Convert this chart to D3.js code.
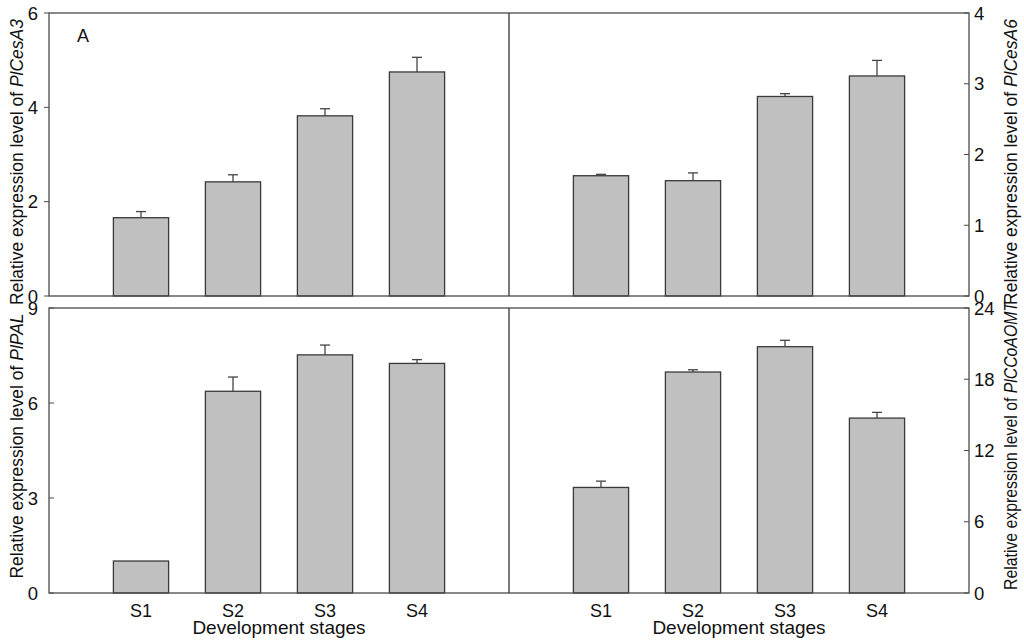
<!DOCTYPE html>
<html>
<head>
<meta charset="utf-8">
<script src="https://cdn.jsdelivr.net/npm/d3@7"></script>
<style>
  html, body { margin: 0; padding: 0; background: #fff; }
  svg { display: block; font-family: "Liberation Sans", Arial, Helvetica, sans-serif; }
</style>
</head>
<body>
<svg id="chart" width="1024" height="644"></svg>
<script>
// ---- Data ----
const stages = ["S1", "S2", "S3", "S4"];
const cesA3 = [1.66, 2.42, 3.82, 4.75];
const cesA3Err = [0.13, 0.15, 0.15, 0.31];
const cesA6 = [1.70, 1.63, 2.82, 3.11];
const cesA6Err = [0.02, 0.11, 0.04, 0.22];
const pal = [1.01, 6.37, 7.52, 7.25];
const palErr = [0, 0.45, 0.31, 0.12];
const ccoaomt = [8.89, 18.61, 20.74, 14.73];
const ccoaomtErr = [0.53, 0.19, 0.54, 0.48];
const ticksCesA3 = [0, 2, 4, 6];
const ticksCesA6 = [0, 1, 2, 3, 4];
const ticksPal = [0, 3, 6, 9];
const ticksCcoaomt = [0, 6, 12, 18, 24];
const genes = ["PlCesA3", "PlCesA6", "PlPAL", "PlCCoAOMT"];
const xTitle = "Development stages";

// ---- Layout ----
const svg = d3.select("#chart");
const L = 49, M = 509, R = 969;
const topY0 = 13, topY1 = 296, botY0 = 308, botY1 = 593;
const frameColor = "#4a4a4a";

const panels = [
  {vals: cesA3, err: cesA3Err, ticks: ticksCesA3, gene: genes[0], x0: L, x1: M, y0: topY0, y1: topY1, side: "left", tickDir: -1},
  {vals: cesA6, err: cesA6Err, ticks: ticksCesA6, gene: genes[1], x0: M, x1: R, y0: topY0, y1: topY1, side: "right", tickDir: -1},
  {vals: pal, err: palErr, ticks: ticksPal, gene: genes[2], x0: L, x1: M, y0: botY0, y1: botY1, side: "left", tickDir: 1},
  {vals: ccoaomt, err: ccoaomtErr, ticks: ticksCcoaomt, gene: genes[3], x0: M, x1: R, y0: botY0, y1: botY1, side: "right", tickDir: -1, fit: 288}
];

panels.forEach(p => {
  const x = d3.scaleLinear().domain([0, 5]).range([p.x0, p.x1]);
  const y = d3.scaleLinear().domain([0, d3.max(p.ticks)]).range([p.y1, p.y0]);
  const g = svg.append("g");
  const bw = x(0.6) - x(0);

  // bars
  g.selectAll("rect.bar").data(p.vals).enter().append("rect")
    .attr("class", "bar")
    .attr("x", (d, i) => x(i + 1) - bw / 2)
    .attr("width", bw)
    .attr("y", d => y(d))
    .attr("height", d => y(0) - y(d))
    .attr("fill", "#c0c0c0")
    .attr("stroke", "#3a3a3a")
    .attr("stroke-width", 1.3);

  // error bars
  const eb = g.selectAll("g.err").data(p.vals.map((v, i) => ({v, e: p.err[i], i})).filter(d => d.e > 0))
    .enter().append("g").attr("class", "err");
  eb.append("line")
    .attr("x1", d => x(d.i + 1)).attr("x2", d => x(d.i + 1))
    .attr("y1", d => y(d.v)).attr("y2", d => y(d.v + d.e))
    .attr("stroke", "#444").attr("stroke-width", 1.3);
  eb.append("line")
    .attr("x1", d => x(d.i + 1) - 5).attr("x2", d => x(d.i + 1) + 5)
    .attr("y1", d => y(d.v + d.e)).attr("y2", d => y(d.v + d.e))
    .attr("stroke", "#444").attr("stroke-width", 1.3);

  // y axis
  const axX = p.side === "left" ? p.x0 : p.x1;
  const tickLen = 5;
  g.selectAll("line.tick").data(p.ticks).enter().append("line")
    .attr("x1", axX)
    .attr("x2", d => {
      if (p.side === "left") return p.tickDir < 0 ? axX - tickLen : axX + tickLen;
      return axX - tickLen;
    })
    .attr("y1", d => y(d)).attr("y2", d => y(d))
    .attr("stroke", frameColor).attr("stroke-width", 1);
  g.selectAll("text.tl").data(p.ticks).enter().append("text")
    .attr("x", p.side === "left" ? 38 : 974)
    .attr("y", d => y(d))
    .attr("dy", "0.36em")
    .attr("text-anchor", p.side === "left" ? "end" : "start")
    .attr("font-size", 18.5)
    .attr("fill", "#111")
    .text(d => d);

  // x labels (bottom panels)
  if (p.y0 === botY0) {
    g.selectAll("text.xl").data(stages).enter().append("text")
      .attr("x", (d, i) => x(i + 1))
      .attr("y", 617)
      .attr("text-anchor", "middle")
      .attr("font-size", 18)
      .attr("fill", "#111")
      .text(d => d);
    g.append("text")
      .attr("x", (p.x0 + p.x1) / 2)
      .attr("y", 634)
      .attr("text-anchor", "middle")
      .attr("font-size", 19)
      .attr("fill", "#111")
      .text(xTitle);
  }

  // y title
  const cy = p.y0 === topY0 ? 162 : 446;
  const tx = p.side === "left" ? 23 : 1017;
  const t = g.append("text")
    .attr("transform", `translate(${tx},${cy}) rotate(-90)`)
    .attr("text-anchor", "middle")
    .attr("font-size", 17.5)
    .attr("fill", "#111");
  if (p.fit) t.attr("textLength", p.fit).attr("lengthAdjust", "spacingAndGlyphs");
  t.append("tspan").text("Relative expression level of ");
  t.append("tspan").attr("font-style", "italic").text(p.gene);
});

// frames
[[topY0, topY1], [botY0, botY1]].forEach(([a, b]) => {
  svg.append("rect").attr("x", L).attr("y", a).attr("width", R - L).attr("height", b - a)
    .attr("fill", "none").attr("stroke", frameColor).attr("stroke-width", 1.3);
  svg.append("line").attr("x1", M).attr("x2", M).attr("y1", a).attr("y2", b)
    .attr("stroke", "#333").attr("stroke-width", 1.3);
});

// panel letter
svg.append("text").attr("x", 77).attr("y", 42).attr("font-size", 18).attr("fill", "#111").text("A");
</script>
</body>
</html>
